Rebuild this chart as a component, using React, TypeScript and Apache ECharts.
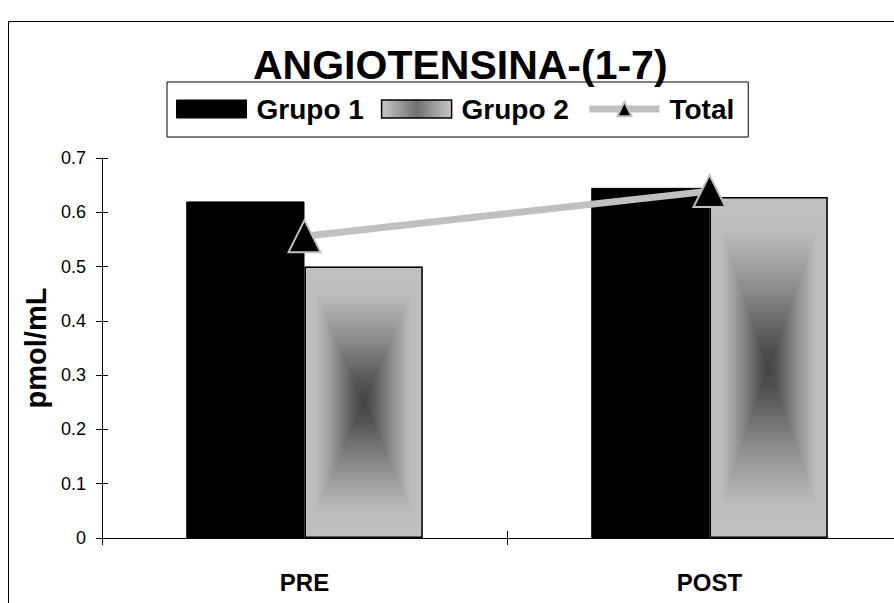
import React, { useEffect, useRef } from "react";
import * as echarts from "echarts";

const categories = ["PRE", "POST"];
const grupo1 = [0.62, 0.645];
const grupo2 = [0.5, 0.628];
const total = [0.556, 0.639];
const yTicks = { min: 0, max: 0.7, interval: 0.1 };

const FONT = "'Liberation Sans', Arial, sans-serif";
const BAR_FRAC = 0.292;

const stops = [
  { offset: 0, color: "#c0c0c0" },
  { offset: 0.2, color: "#bdbdbd" },
  { offset: 0.55, color: "#8a8a8a" },
  { offset: 0.85, color: "#555555" },
  { offset: 1, color: "#434343" },
];
const rev = stops.map((s) => ({ offset: 1 - s.offset, color: s.color })).reverse();

function lg(x: number, y: number, x2: number, y2: number, st: any) {
  return new echarts.graphic.LinearGradient(x, y, x2, y2, st);
}

function tri(points: number[][], x: number, y: number, x2: number, y2: number, st: any) {
  return {
    type: "polygon",
    shape: { points },
    style: { fill: lg(x, y, x2, y2, st), stroke: lg(x, y, x2, y2, st), lineWidth: 1 },
  };
}

export default function App() {
  const ref = useRef<HTMLDivElement>(null);
  useEffect(() => {
    if (!ref.current) return;
    const chart = echarts.init(ref.current, undefined, { renderer: "svg" });
    const legendG2 = new echarts.graphic.LinearGradient(0, 0, 1, 0, [
      { offset: 0, color: "#c8c8c8" },
      { offset: 0.5, color: "#707070" },
      { offset: 1, color: "#c8c8c8" },
    ]);
    chart.setOption({
      animation: false,
      backgroundColor: "#fff",
      title: {
        text: "ANGIOTENSINA-(1-7)",
        left: 253,
        top: 44,
        padding: 0,
        textStyle: { fontFamily: FONT, fontSize: 41, fontWeight: "bold", color: "#000" },
      },
      legend: {
        left: 167,
        top: 82,
        padding: [13, 14, 14, 9],
        borderColor: "#000",
        borderWidth: 1,
        itemWidth: 70,
        itemHeight: 18,
        itemGap: 17,
        textStyle: { fontFamily: FONT, fontSize: 28, fontWeight: "bold", color: "#000", padding: [0, 0, 0, 5] },
        data: [
          { name: "Grupo 1", icon: "rect", itemStyle: { color: "#000", borderColor: "#000", borderWidth: 1 } },
          { name: "Grupo 2", icon: "rect", itemStyle: { color: legendG2, borderColor: "#000", borderWidth: 1.5 } },
          { name: "Total", lineStyle: { width: 7, color: "#c0c0c0" } },
        ],
      },
      graphic: [
        {
          type: "rect",
          shape: { x: 8.5, y: 21.5, width: 1000, height: 1000 },
          style: { fill: "none", stroke: "#000", lineWidth: 1 },
          silent: true,
          z: -1,
        },
      ],
      grid: { left: 102, top: 158, width: 810, height: 380 },
      xAxis: [
        {
          type: "category",
          data: categories,
          axisLine: { lineStyle: { color: "#000", width: 1 } },
          axisTick: { show: true, length: 7, lineStyle: { color: "#000" } },
          axisLabel: { fontFamily: FONT, fontSize: 24, fontWeight: "bold", color: "#000", margin: 32 },
          splitLine: { show: false },
        },
        {
          type: "category",
          data: categories,
          position: "bottom",
          axisLine: { show: false },
          axisTick: { show: true, inside: true, length: 7, lineStyle: { color: "#000" } },
          axisLabel: { show: false },
          splitLine: { show: false },
        },
      ],
      yAxis: [
        {
          type: "value",
          min: yTicks.min,
          max: yTicks.max,
          interval: yTicks.interval,
          name: "pmol/mL",
          nameLocation: "middle",
          nameGap: 49,
          nameTextStyle: { fontFamily: FONT, fontSize: 29, fontWeight: "bold", color: "#000" },
          axisLine: { show: true, lineStyle: { color: "#000", width: 1 } },
          axisTick: { show: true, length: 6, lineStyle: { color: "#000" } },
          axisLabel: { fontFamily: FONT, fontSize: 18, color: "#000", margin: 16 },
          splitLine: { show: false },
        },
        {
          type: "value",
          min: yTicks.min,
          max: yTicks.max,
          interval: yTicks.interval,
          position: "left",
          axisLine: { show: false },
          axisTick: { show: true, inside: true, length: 6, lineStyle: { color: "#000" } },
          axisLabel: { show: false },
          splitLine: { show: false },
        },
      ],
      series: [
        {
          name: "Grupo 1",
          type: "bar",
          data: grupo1,
          barWidth: (BAR_FRAC * 100).toFixed(1) + "%",
          barGap: "0%",
          itemStyle: { color: "#000", borderColor: "#000", borderWidth: 1 },
          z: 2,
        },
        {
          name: "Grupo 2 relleno",
          type: "custom",
          data: grupo2.map((v, i) => [i, v]),
          silent: true,
          z: 2,
          renderItem: (params: any, api: any) => {
            const idx = api.value(0);
            const v = api.value(1);
            const base = api.coord([idx, 0]);
            const top = api.coord([idx, v]);
            const band = api.size([1, 0])[0];
            const w = band * BAR_FRAC;
            const x0 = base[0];
            const x1 = x0 + w;
            const y0 = top[1];
            const y1 = base[1];
            const cx = (x0 + x1) / 2;
            const cy = (y0 + y1) / 2;
            return {
              type: "group",
              clipPath: { type: "rect", shape: { x: x0, y: y0, width: w, height: y1 - y0 } },
              children: [
                { type: "rect", shape: { x: x0, y: y0, width: w, height: y1 - y0 }, style: { fill: "#8a8a8a" } },
                tri([[x0, y0], [x0, y1], [cx, cy]], 0, 0, 1, 0, stops),
                tri([[x1, y0], [x1, y1], [cx, cy]], 0, 0, 1, 0, rev),
                tri([[x0, y0], [x1, y0], [cx, cy]], 0, 0, 0, 1, stops),
                tri([[x0, y1], [x1, y1], [cx, cy]], 0, 0, 0, 1, rev),
              ],
            };
          },
        },
        {
          name: "Grupo 2",
          type: "bar",
          data: grupo2,
          barWidth: (BAR_FRAC * 100).toFixed(1) + "%",
          barGap: "0%",
          itemStyle: { color: "rgba(0,0,0,0)", borderColor: "#000", borderWidth: 1.5 },
          z: 3,
        },
        {
          name: "Total",
          type: "line",
          data: total,
          symbol: "triangle",
          symbolSize: [32, 32],
          lineStyle: { color: "#c0c0c0", width: 7 },
          itemStyle: { color: "#000", borderColor: "#c0c0c0", borderWidth: 2 },
          z: 4,
        },
      ],
    });
    return () => chart.dispose();
  }, []);
  return (
    <div style={{ position: "absolute", left: 0, top: 0, width: 894, height: 603, overflow: "hidden" }}>
      <div ref={ref} style={{ position: "absolute", left: 0, top: 0, width: 930, height: 603 }} />
    </div>
  );
}
